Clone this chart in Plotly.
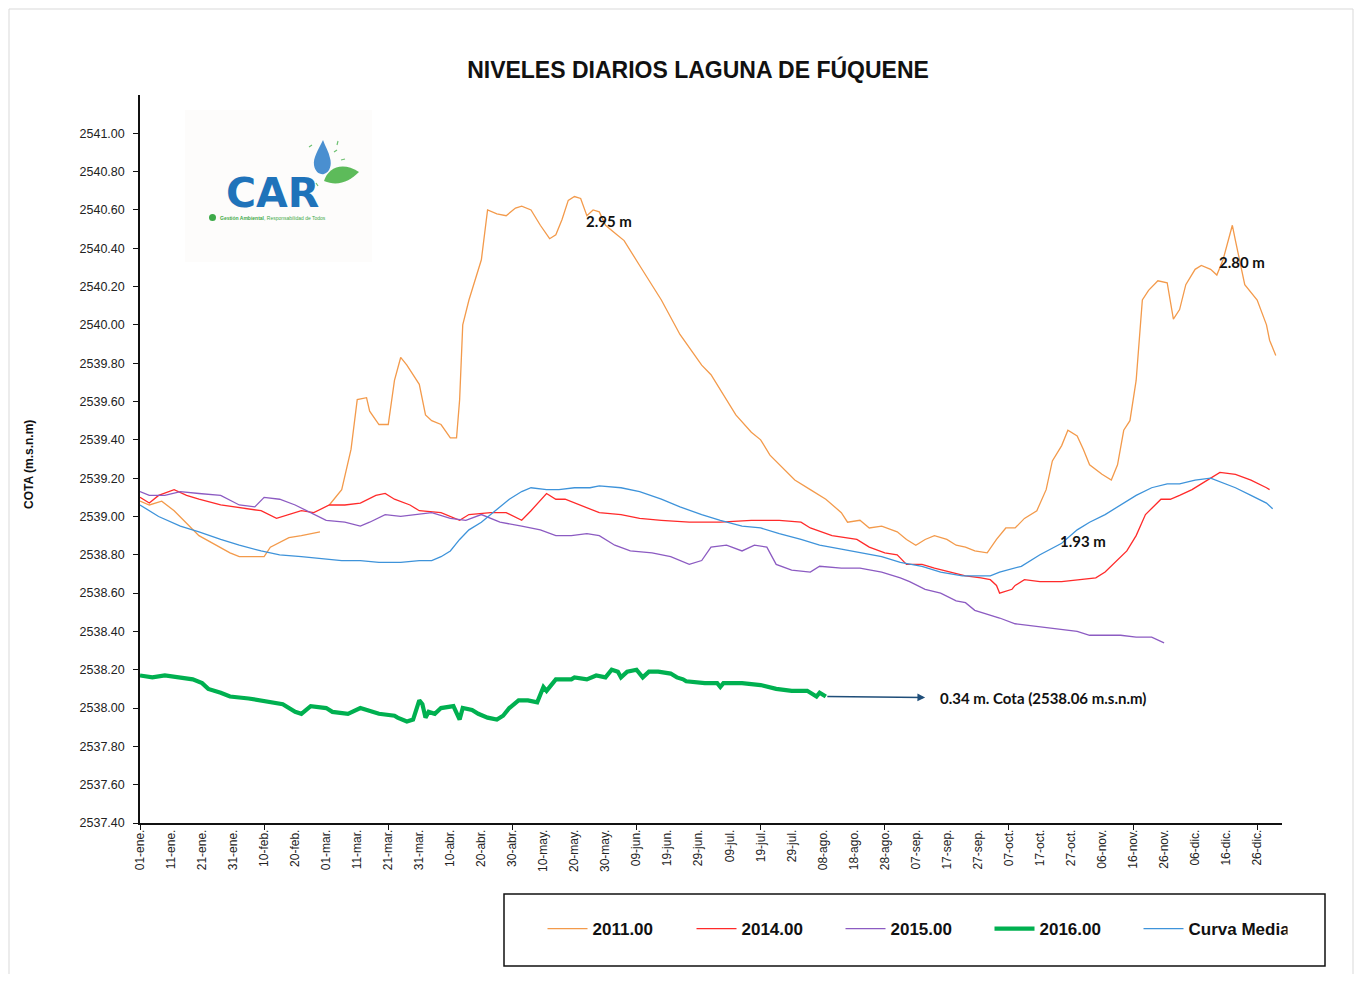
import plotly.graph_objects as go

# ---------------- data ----------------
tick_labels = ["01-ene.", "11-ene.", "21-ene.", "31-ene.", "10-feb.", "20-feb.", "01-mar.", "11-mar.",
               "21-mar.", "31-mar.", "10-abr.", "20-abr.", "30-abr.", "10-may.", "20-may.", "30-may.",
               "09-jun.", "19-jun.", "29-jun.", "09-jul.", "19-jul.", "29-jul.", "08-ago.", "18-ago.",
               "28-ago.", "07-sep.", "17-sep.", "27-sep.", "07-oct.", "17-oct.", "27-oct.", "06-nov.",
               "16-nov.", "26-nov.", "06-dic.", "16-dic.", "26-dic."]
tick_days = [10 * i for i in range(len(tick_labels))]
major_days = [0, 40, 80, 120, 160, 200, 240, 280, 320, 360]
y_ticks = [round(2537.4 + 0.2 * i, 2) for i in range(19)]

d2011 = [0, 3, 7, 11, 19, 29, 32, 40, 42, 48, 52, 58, None,
         61, 65, 68, 70, 73, 74, 77, 80, 82, 84, 86, 90, 92, 94, 97, 100, 102, 103, 104, 106, 110, 112,
         115, 118, 121, 123, 126, 129, 132, 134, 136, 138, 140, 142, 144, 146, 148, 150, 153, 156, 161,
         168, 174, 181, 184, 187, 192, 197, 200, 203, 208, 211, 216, 221, 226, 228, 232, 235, 239, 244,
         247, 250, 253, 256, 260, 263, 266, 269, 273, 276, 279, 282, 285, 289, 292, 294, 297, 299, 302,
         304, 306, 310, 313, 315, 317, 319, 321, 323, 325, 328, 331, 333, 335, 337, 340, 342, 345, 347,
         349, 352, 353, 356, 360, 363, 364, 366]
v2011 = [2539.08, 2539.06, 2539.08, 2539.03, 2538.90, 2538.81, 2538.79, 2538.79, 2538.84, 2538.89,
         2538.90, 2538.92, None,
         2539.06, 2539.14, 2539.35, 2539.61, 2539.62, 2539.55, 2539.48, 2539.48, 2539.71, 2539.83,
         2539.79, 2539.69, 2539.53, 2539.50, 2539.48, 2539.41, 2539.41, 2539.61, 2540.00, 2540.13,
         2540.34, 2540.60, 2540.58, 2540.57, 2540.61, 2540.62, 2540.60, 2540.52, 2540.45, 2540.47,
         2540.55, 2540.65, 2540.67, 2540.66, 2540.57, 2540.60, 2540.59, 2540.52, 2540.48, 2540.44,
         2540.31, 2540.13, 2539.95, 2539.79, 2539.74, 2539.66, 2539.53, 2539.44, 2539.40, 2539.32,
         2539.24, 2539.19, 2539.14, 2539.09, 2539.02, 2538.97, 2538.98, 2538.94, 2538.95, 2538.92,
         2538.88, 2538.85, 2538.88, 2538.90, 2538.88, 2538.85, 2538.84, 2538.82, 2538.81, 2538.88,
         2538.94, 2538.94, 2538.99, 2539.03, 2539.14, 2539.29, 2539.37, 2539.45, 2539.42, 2539.35,
         2539.27, 2539.22, 2539.19, 2539.27, 2539.45, 2539.50, 2539.71, 2540.13, 2540.18, 2540.23,
         2540.22, 2540.03, 2540.08, 2540.21, 2540.29, 2540.31, 2540.29, 2540.26, 2540.34, 2540.52,
         2540.44, 2540.21, 2540.13, 2540.00, 2539.92, 2539.84]

d2014 = [0, 3, 6, 11, 15, 19, 26, 34, 39, 44, 48, 52, 56, 61, 66, 71, 76, 79, 82, 87, 90, 97, 103,
         106, 113, 118, 123, 126, 131, 134, 137, 142, 148, 155, 161, 168, 177, 187, 197, 206, 213, 216,
         223, 231, 235, 240, 244, 247, 252, 256, 261, 266, 271, 274, 276, 277, 281, 282, 285, 290, 297,
         303, 308, 311, 315, 318, 321, 324, 329, 332, 335, 339, 342, 345, 348, 353, 358, 363, 364]
v2014 = [2539.10, 2539.07, 2539.11, 2539.14, 2539.11, 2539.09, 2539.06, 2539.04, 2539.03, 2538.99,
         2539.01, 2539.03, 2539.02, 2539.06, 2539.06, 2539.07, 2539.11, 2539.12, 2539.09, 2539.06,
         2539.03, 2539.02, 2538.98, 2539.01, 2539.02, 2539.02, 2538.98, 2539.03, 2539.12, 2539.09,
         2539.09, 2539.06, 2539.02, 2539.01, 2538.99, 2538.98, 2538.97, 2538.97, 2538.98, 2538.98,
         2538.97, 2538.94, 2538.90, 2538.88, 2538.84, 2538.81, 2538.80, 2538.75, 2538.75, 2538.73,
         2538.71, 2538.69, 2538.68, 2538.67, 2538.64, 2538.60, 2538.62, 2538.64, 2538.67, 2538.66,
         2538.66, 2538.67, 2538.68, 2538.71, 2538.77, 2538.82, 2538.90, 2539.01, 2539.09, 2539.09,
         2539.11, 2539.14, 2539.17, 2539.20, 2539.23, 2539.22, 2539.19, 2539.15, 2539.14]

d2015 = [0, 3, 8, 13, 19, 26, 32, 37, 40, 45, 50, 55, 60, 66, 71, 74, 79, 84, 89, 94, 100, 105, 110,
         116, 123, 129, 134, 139, 144, 148, 153, 158, 165, 171, 177, 181, 184, 189, 194, 198, 202, 205,
         210, 216, 219, 226, 232, 239, 245, 248, 253, 258, 263, 266, 269, 273, 277, 282, 287, 292, 297,
         302, 306, 311, 316, 321, 326, 330]
v2015 = [2539.13, 2539.11, 2539.11, 2539.13, 2539.12, 2539.11, 2539.06, 2539.05, 2539.10, 2539.09,
         2539.06, 2539.02, 2538.98, 2538.97, 2538.95, 2538.97, 2539.01, 2539.00, 2539.01, 2539.02,
         2538.99, 2538.98, 2539.01, 2538.97, 2538.95, 2538.93, 2538.90, 2538.90, 2538.91, 2538.90,
         2538.85, 2538.82, 2538.81, 2538.79, 2538.75, 2538.77, 2538.84, 2538.85, 2538.82, 2538.85,
         2538.84, 2538.75, 2538.72, 2538.71, 2538.74, 2538.73, 2538.73, 2538.71, 2538.68, 2538.66,
         2538.62, 2538.60, 2538.56, 2538.55, 2538.51, 2538.49, 2538.47, 2538.44, 2538.43, 2538.42,
         2538.41, 2538.40, 2538.38, 2538.38, 2538.38, 2538.37, 2538.37, 2538.34]

d2016 = [0, 4, 8, 13, 17, 20, 22, 26, 29, 35, 39, 44, 46, 50, 52, 55, 60, 62, 67, 71, 73, 77, 82, 83,
         86, 88, 90, 91, 92, 93, 95, 97, 101, 103, 104, 107, 109, 112, 115, 117, 119, 122, 125, 128,
         130, 131, 134, 139, 140, 144, 147, 150, 152, 154, 155, 157, 160, 162, 164, 167, 171, 173, 175,
         176, 182, 186, 187, 188, 194, 200, 205, 210, 215, 218, 219, 221]
v2016 = [2538.17, 2538.16, 2538.17, 2538.16, 2538.15, 2538.13, 2538.10, 2538.08, 2538.06, 2538.05,
         2538.04, 2538.03, 2538.02, 2537.98, 2537.97, 2538.01, 2538.00, 2537.98, 2537.97, 2538.00,
         2537.99, 2537.97, 2537.96, 2537.95, 2537.93, 2537.94, 2538.04, 2538.02, 2537.95, 2537.98,
         2537.97, 2538.00, 2538.01, 2537.94, 2538.00, 2537.99, 2537.97, 2537.95, 2537.94, 2537.96,
         2538.00, 2538.04, 2538.04, 2538.03, 2538.11, 2538.09, 2538.15, 2538.15, 2538.16, 2538.15,
         2538.17, 2538.16, 2538.20, 2538.19, 2538.16, 2538.19, 2538.20, 2538.16, 2538.19, 2538.19,
         2538.18, 2538.16, 2538.15, 2538.14, 2538.13, 2538.13, 2538.11, 2538.13, 2538.13, 2538.12,
         2538.10, 2538.09, 2538.09, 2538.06, 2538.08, 2538.06]

dmedia = [0, 6, 13, 19, 26, 32, 39, 45, 52, 58, 65, 71, 77, 84, 90, 94, 97, 100, 103, 106, 110, 113,
          116, 119, 123, 126, 131, 135, 140, 145, 148, 155, 161, 168, 174, 181, 187, 194, 200, 206, 213,
          219, 226, 232, 239, 245, 252, 258, 265, 271, 274, 277, 284, 290, 297, 302, 306, 311, 316, 321,
          326, 331, 335, 340, 345, 348, 353, 358, 363, 365]
vmedia = [2539.06, 2539.00, 2538.95, 2538.92, 2538.88, 2538.85, 2538.82, 2538.80, 2538.79, 2538.78,
          2538.77, 2538.77, 2538.76, 2538.76, 2538.77, 2538.77, 2538.79, 2538.82, 2538.88, 2538.93,
          2538.97, 2539.01, 2539.05, 2539.09, 2539.13, 2539.15, 2539.14, 2539.14, 2539.15, 2539.15,
          2539.16, 2539.15, 2539.13, 2539.09, 2539.05, 2539.01, 2538.98, 2538.95, 2538.94, 2538.91,
          2538.88, 2538.85, 2538.83, 2538.81, 2538.79, 2538.76, 2538.74, 2538.71, 2538.69, 2538.69,
          2538.69, 2538.71, 2538.74, 2538.80, 2538.86, 2538.93, 2538.97, 2539.01, 2539.06, 2539.11,
          2539.15, 2539.17, 2539.17, 2539.19, 2539.20, 2539.18, 2539.15, 2539.11, 2539.07, 2539.04]

# ---------------- layout helpers ----------------
OFF = 8                       # page body margin added by the browser
FW, FH = 1362 - 2 * OFF, 982 - 2 * OFF
L, R, T, B = 140, 1282, 95, 823  # target plot area in page pixels
W, H = R - L, B - T


def px(x, y):
    return (x - L) / W, (B - y) / H


def path(pts):
    s = ""
    for cmd, coords in pts:
        s += cmd
        for (x, y) in coords:
            a, b = px(x, y)
            s += f" {a:.5f},{b:.5f}"
        s += " "
    return s + "Z"


AX_FONT = "Liberation Sans, Arial, sans-serif"

fig = go.Figure()
series = [
    ("2011.00", d2011, v2011, "#F39A4B", 1.3),
    ("2014.00", d2014, v2014, "#FF2A2A", 1.3),
    ("2015.00", d2015, v2015, "#8C5BC2", 1.3),
    ("2016.00", d2016, v2016, "#00B050", 4.2),
    ("Curva Media", dmedia, vmedia, "#3E93DA", 1.3),
]
for name, d, v, c, w in series:
    fig.add_trace(go.Scatter(x=d, y=v, name=f"<b>{name}</b>", mode="lines",
                             line=dict(color=c, width=w), connectgaps=False))

# dummy trace to carry the major tick marks axis
fig.add_trace(go.Scatter(x=[None], y=[None], xaxis="x2", showlegend=False, hoverinfo="skip"))

fig.update_layout(
    width=FW, height=FH,
    margin=dict(l=L - OFF, r=FW - (R - OFF), t=T - OFF, b=FH - (B - OFF), autoexpand=False),
    paper_bgcolor="white", plot_bgcolor="white",
    showlegend=True,
    title=dict(text="<b>NIVELES DIARIOS LAGUNA DE FÚQUENE</b>", x=(698 - OFF) / FW, xanchor="center",
               y=1 - (70 - OFF) / FH, yanchor="middle",
               font=dict(family=AX_FONT, size=23, color="#111111")),
    xaxis=dict(range=[0, 368], tickmode="array", tickvals=tick_days, ticktext=tick_labels,
               tickangle=-90, ticks="", showline=True, linecolor="#111111", linewidth=1.5,
               showgrid=False, zeroline=False,
               tickfont=dict(family=AX_FONT, size=12, color="#222222")),
    xaxis2=dict(range=[0, 368], overlaying="x", anchor="y", side="bottom", tickmode="array",
                tickvals=major_days, ticks="outside", ticklen=6, tickwidth=1.3, tickcolor="#111111",
                showticklabels=False, showline=False, showgrid=False, zeroline=False),
    yaxis=dict(range=[2537.4, 2541.2], tickmode="array", tickvals=y_ticks,
               ticktext=[f"{v:.2f}" for v in y_ticks], ticks="outside", ticklen=5, tickwidth=1.3,
               tickcolor="#111111", showline=True, linecolor="#111111", linewidth=1.5,
               showgrid=False, zeroline=False, ticklabelstandoff=6,
               tickfont=dict(family=AX_FONT, size=12.5, color="#222222")),
    legend=dict(orientation="h", x=px(915, 929)[0], y=px(915, 929)[1], xanchor="center",
                yanchor="middle", entrywidth=94, entrywidthmode="pixels",
                font=dict(family=AX_FONT, size=17, color="#111111"), bgcolor="rgba(0,0,0,0)",
                itemwidth=40),
)

shapes = []
# outer frame
x0, y0 = px(9, 9)
x1, y1 = px(1353, 978)
shapes.append(dict(type="rect", xref="paper", yref="paper", x0=x0, y0=y1, x1=x1, y1=y0,
                   line=dict(color="#D9D9D9", width=1), layer="below"))
# legend box
x0, y0 = px(504, 894)
x1, y1 = px(1325, 966)
shapes.append(dict(type="rect", xref="paper", yref="paper", x0=x0, y0=y1, x1=x1, y1=y0,
                   line=dict(color="#111111", width=1.5)))
# logo background
x0, y0 = px(185, 110)
x1, y1 = px(372, 262)
shapes.append(dict(type="rect", xref="paper", yref="paper", x0=x0, y0=y1, x1=x1, y1=y0,
                   fillcolor="#FDFCFB", line=dict(width=0), layer="below"))
# logo drop
shapes.append(dict(type="path", xref="paper", yref="paper",
                   path=path([("M", [(323, 140)]),
                              ("C", [(318, 150), (313, 158), (314, 165)]),
                              ("C", [(315, 172), (320, 175), (324, 174)]),
                              ("C", [(330, 172), (332, 165), (330, 158)]),
                              ("C", [(329, 152), (325, 146), (323, 140)])]),
                   fillcolor="#4A8FD0", line=dict(width=0)))
# logo leaf
shapes.append(dict(type="path", xref="paper", yref="paper",
                   path=path([("M", [(324, 181)]),
                              ("C", [(328, 168), (342, 161), (359, 172)]),
                              ("C", [(350, 181), (338, 187), (324, 181)])]),
                   fillcolor="#5DBB5A", line=dict(width=0)))
# logo small green dot
cx0, cy0 = px(209, 214)
cx1, cy1 = px(216, 221)
shapes.append(dict(type="circle", xref="paper", yref="paper", x0=cx0, y0=cy1, x1=cx1, y1=cy0,
                   fillcolor="#3DAA49", line=dict(width=0)))
# small dashes around the logo drop
for (a, b, c, d) in [(309, 147, 312, 145), (334, 152, 337, 150), (341, 160, 345, 159),
                     (337, 145, 338, 141), (316, 183, 318, 186)]:
    p0 = px(a, b)
    p1 = px(c, d)
    shapes.append(dict(type="line", xref="paper", yref="paper", x0=p0[0], y0=p0[1], x1=p1[0],
                       y1=p1[1], line=dict(color="#6CC070", width=1.2)))
fig.update_layout(shapes=shapes)

ann = []
# y axis title
ax_, ay_ = px(20, 465)
ann.append(dict(xref="paper", yref="paper", x=ax_, y=ay_, text="<b>COTA (m.s.n.m)</b>", showarrow=False,
                textangle=-90, font=dict(family=AX_FONT, size=12, color="#111111")))
# logo text
lx, ly = px(272, 193)
ann.append(dict(xref="paper", yref="paper", x=lx, y=ly, text="<b>CAR</b>", showarrow=False,
                font=dict(family="DejaVu Sans, sans-serif", size=41, color="#1F73BA"),
                xanchor="center", yanchor="middle"))
lx, ly = px(218, 218)
ann.append(dict(xref="paper", yref="paper", x=lx, y=ly,
                text="<b>Gestión Ambiental</b>, Responsabilidad de Todos", showarrow=False,
                font=dict(family=AX_FONT, size=5, color="#3DAA49"), xanchor="left", yanchor="middle"))
# value labels
lbl_font = dict(family="Lato, Open Sans, sans-serif", size=15, color="#111111")
ann.append(dict(x=151, y=2540.54, text="<b>2.95 m</b>", showarrow=False, font=lbl_font))
ann.append(dict(x=355, y=2540.33, text="<b>2.80 m</b>", showarrow=False, font=lbl_font))
ann.append(dict(x=304, y=2538.87, text="<b>1.93 m</b>", showarrow=False, font=lbl_font))
# arrow from the last 2016 reading
ann.append(dict(x=253, y=2538.055, ax=d2016[-1], ay=v2016[-1], axref="x", ayref="y", text="",
                showarrow=True, arrowhead=2, arrowsize=1.1, arrowwidth=1.4, arrowcolor="#1F4E79",
                standoff=0, startstandoff=0))
ann.append(dict(x=257, y=2538.05, text="<b>0.34 m. Cota (2538.06 m.s.n.m)</b>", showarrow=False,
                xanchor="left", yanchor="middle", font=lbl_font))
fig.update_layout(annotations=ann)

fig.write_html("out.html")
